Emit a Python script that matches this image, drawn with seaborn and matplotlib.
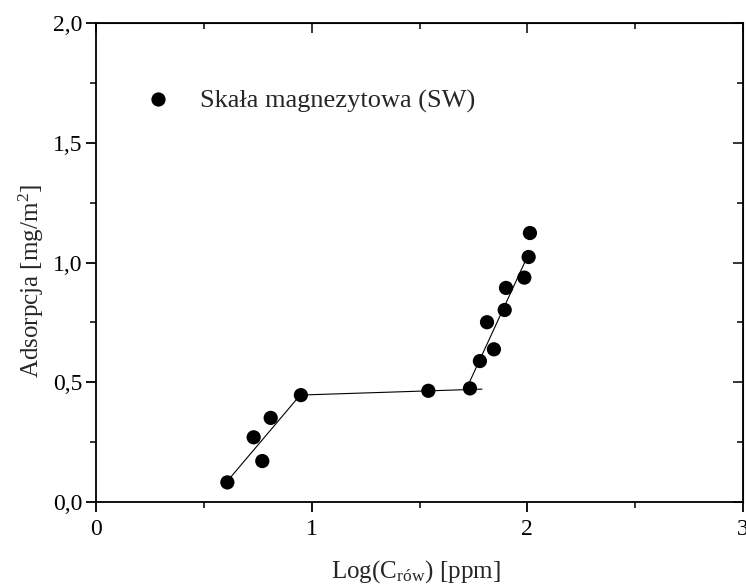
import matplotlib
matplotlib.use("Agg")
import matplotlib.pyplot as plt
from matplotlib.ticker import FuncFormatter, MultipleLocator
import seaborn as sns
import pandas as pd

# data
log_c = [0.609, 0.731, 0.771, 0.810, 0.950, 1.541, 1.734, 1.780, 1.845,
         1.813, 1.895, 1.901, 1.986, 2.006, 2.012]
adsorpcja = [0.083, 0.271, 0.172, 0.352, 0.447, 0.465, 0.475, 0.589, 0.638,
             0.751, 0.802, 0.894, 0.937, 1.023, 1.123]
series_name = "Skała magnezytowa (SW)"

# fitted line segments (endpoints)
fit1_x = [0.62, 0.94]
fit1_y = [0.100, 0.440]
fit2_x = [0.94, 1.79]
fit2_y = [0.447, 0.472]
fit3_x = [1.725, 1.99]
fit3_y = [0.488, 1.005]

x_ticks = [0, 1, 2, 3]
y_ticks = [0.0, 0.5, 1.0, 1.5, 2.0]

sns.set_style("ticks")
plt.rcParams["font.family"] = ["Liberation Serif", "DejaVu Serif"]
plt.rcParams["mathtext.fontset"] = "stix"

df = pd.DataFrame({"x": log_c, "y": adsorpcja, "s": series_name})

fig = plt.figure(figsize=(7.46, 5.84), dpi=100)
ax = fig.add_axes([0.1287, 0.1399, 0.8673, 0.8212])

for fx, fy in [(fit1_x, fit1_y), (fit2_x, fit2_y), (fit3_x, fit3_y)]:
    sns.lineplot(x=fx, y=fy, ax=ax, color="black", linewidth=0.8,
                 legend=False, sort=False)

sns.scatterplot(data=df, x="x", y="y", hue="s", palette=["black"], s=105,
                edgecolor="black", linewidth=0, ax=ax, zorder=3)

ax.set_xlim(0, 3)
ax.set_ylim(0, 2.0)
ax.set_xticks(x_ticks)
ax.set_yticks(y_ticks)
ax.xaxis.set_minor_locator(MultipleLocator(0.5))
ax.yaxis.set_minor_locator(MultipleLocator(0.25))
ax.xaxis.set_major_formatter(FuncFormatter(lambda v, p: f"{v:g}"))
ax.yaxis.set_major_formatter(FuncFormatter(lambda v, p: f"{v:.1f}".replace(".", ",")))

for sp in ax.spines.values():
    sp.set_visible(True)
    sp.set_linewidth(1.3)
    sp.set_color("black")

ax.tick_params(axis="both", which="major", direction="out", length=7, width=1.3,
               labelsize=17, colors="black", pad=3)
ax.tick_params(axis="x", which="major", pad=5)
ax.tick_params(axis="both", which="minor", direction="out", length=4, width=1.3)
# mirrored inward ticks on top/right
axt = ax.secondary_xaxis("top")
axt.set_xticks(x_ticks)
axt.xaxis.set_minor_locator(MultipleLocator(0.5))
axt.tick_params(which="major", direction="in", length=7, width=1.3, labeltop=False)
axt.tick_params(which="minor", direction="in", length=4, width=1.3)
axr = ax.secondary_yaxis("right")
axr.set_yticks(y_ticks)
axr.yaxis.set_minor_locator(MultipleLocator(0.25))
axr.tick_params(which="major", direction="in", length=7, width=1.3, labelright=False)
axr.tick_params(which="minor", direction="in", length=4, width=1.3)

ax.set_xlabel(r"Log(C$_{\mathregular{rów}}$) [ppm]", fontsize=18)
ax.set_ylabel(r"Adsorpcja [mg/m$^{\mathregular{2}}$]", fontsize=18)
ax.xaxis.set_label_coords(0.495, -0.144, transform=ax.transAxes)
ax.yaxis.set_label_coords(-0.100, 0.461, transform=ax.transAxes)
ax.xaxis.label.set_va("center")
ax.yaxis.label.set_va("center")

ax.legend(loc="center left", bbox_to_anchor=(0.038, 0.836), frameon=False,
          fontsize=19, handletextpad=0.6, borderaxespad=0, markerscale=1.0)

fig.savefig("out.png", dpi=100)
